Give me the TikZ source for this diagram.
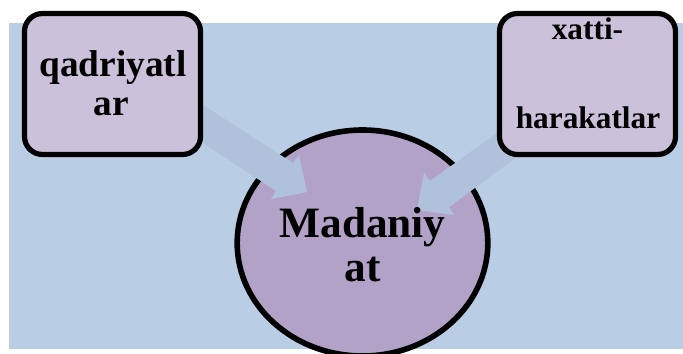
\documentclass[tikz,border=0pt]{standalone}
\usepackage{fontspec}
\setmainfont{Liberation Serif}
\usetikzlibrary{shapes.geometric}
\definecolor{panel}{HTML}{B9CDE5}
\definecolor{boxfill}{HTML}{CCC1DA}
\definecolor{circfill}{HTML}{B3A2C7}
\definecolor{arrowfill}{HTML}{B0C2DB}
\tikzset{
  x=0.75pt,y=-0.75pt,
  term/.style={draw=black,line width=3.9pt,fill=boxfill,rounded corners=13.5pt,minimum width=132pt,minimum height=105.75pt,inner sep=0pt},
  hub/.style={draw=black,line width=4.2pt,fill=circfill,ellipse,minimum width=188pt,minimum height=169.5pt,inner sep=0pt},
  flow/.style={fill=arrowfill,draw=none},
  lab/.style={anchor=base,align=center,text=black,inner sep=0pt},
  big/.style={lab,font=\bfseries\fontsize{28pt}{32pt}\selectfont},
  small/.style={lab,font=\bfseries\fontsize{23.5pt}{27pt}\selectfont},
  huge/.style={lab,font=\bfseries\fontsize{32.5pt}{37pt}\selectfont}
}
\begin{document}
\begin{tikzpicture}
\useasboundingbox (0,0) rectangle (683,354);
\fill[white] (0,0) rectangle (683,354);
\fill[panel] (9,23) rectangle (683,349);
\node[hub] (c) at (362.5,243) {};
\fill[flow] (203,105) -- (293,163) -- (299,155) -- (307,192) -- (271,199) -- (276,191) -- (203,143) -- cycle;
\fill[flow] (497,133) -- (430,181) -- (424,173) -- (417,210) -- (454,215) -- (449,207) -- (517,157) -- cycle;
\node[term] (a) at (112.5,84) {};
\node[term] (b) at (587.5,84) {};
\node[big] (t1) at (113,76) {qadriyatl};
\node[big] (t2) at (111.5,115) {ar};
\node[small] (t3) at (587.5,39) {xatti-};
\node[small] (t4) at (588,128) {harakatlar};
\node[huge] (t5) at (362.5,237) {Madaniy};
\node[huge] (t6) at (362.5,281) {at};
\end{tikzpicture}
\end{document}
